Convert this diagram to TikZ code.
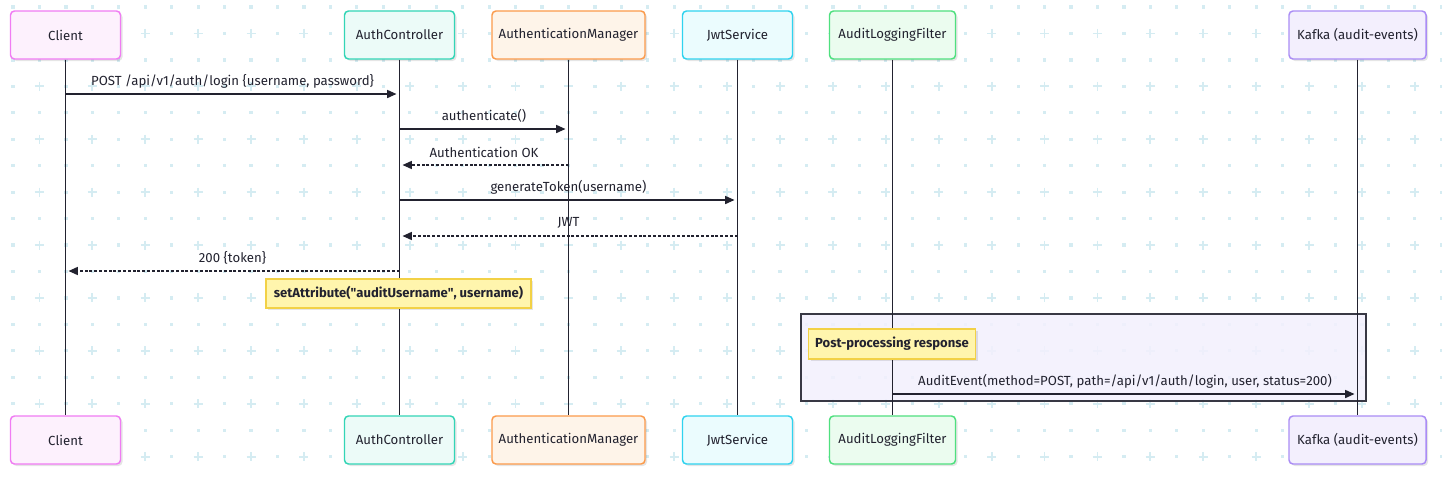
\documentclass[tikz,border=0pt]{standalone}
\usepackage{fontspec}
\setmainfont{Fira Sans}
\usetikzlibrary{arrows.meta,shadows}
\definecolor{ink}{HTML}{22222F}
\definecolor{gridc}{HTML}{D5ECF2}
\definecolor{clientB}{HTML}{F07CF3}
\definecolor{clientF}{HTML}{FDF1FD}
\definecolor{ctrlB}{HTML}{33D5B6}
\definecolor{ctrlF}{HTML}{ECFBF8}
\definecolor{mgrB}{HTML}{FB9A4B}
\definecolor{mgrF}{HTML}{FEF4E9}
\definecolor{jwtB}{HTML}{2FD3EF}
\definecolor{jwtF}{HTML}{EBFCFE}
\definecolor{auditB}{HTML}{4FE07F}
\definecolor{auditF}{HTML}{EBFCEF}
\definecolor{kafkaB}{HTML}{AA8CF5}
\definecolor{kafkaF}{HTML}{F3EFFD}
\definecolor{noteB}{HTML}{F2D146}
\definecolor{noteF}{HTML}{FFF5AD}
\definecolor{groupF}{HTML}{F3F0FD}
\begin{document}
\begin{tikzpicture}[x=0.75pt,y=-0.75pt,
		font=\fontsize{9.9}{12}\selectfont,
		actor/.style={rounded corners=3pt, line width=1.1pt, minimum width=82.5pt, minimum height=36pt, text=ink,
			drop shadow={shadow xshift=1.5pt, shadow yshift=-1.5pt, opacity=0.10, fill=black}},
		life/.style={draw=ink, line width=1.1pt},
		msg/.style={draw=ink, line width=1.1pt, shorten >=2.25pt, -{Triangle[length=7pt,width=6pt]}},
		reply/.style={msg, dash pattern=on 2.2pt off 1.4pt},
		lbl/.style={midway, text=ink, yshift=9.6pt},
		note/.style={draw=noteB, fill=noteF, line width=1.1pt, text=ink, inner xsep=2pt, font=\fontsize{9.8}{12}\selectfont\bfseries,
			drop shadow={shadow xshift=1.5pt, shadow yshift=-1.5pt, opacity=0.10, fill=black}}
	]
	\useasboundingbox (0,0) rectangle (1442,480);
	\fill[white] (0,0) rectangle (1442,480);

	\foreach \i in {0,...,54}{
		\foreach \j in {0,...,17}{
			\pgfmathtruncatemacro{\pl}{mod(\i,2)*mod(\j,2)}
			\ifnum\pl=1
				\draw[gridc, line width=1.3pt] (13+26.45*\i-4.5,7+26.45*\j) -- ++(9,0) (13+26.45*\i,7+26.45*\j-4.5) -- ++(0,9);
			\else
				\fill[gridc] (13+26.45*\i-1.6,7+26.45*\j-1.6) rectangle ++(3.2,3.2);
			\fi
		}
	}

	\fill[groupF, fill opacity=0.85] (801,314) rectangle (1366,401);
	\draw[ink!90, line width=1.1pt] (801,314) rectangle (1366,401);

	\node[actor, draw=clientB, fill=clientF] (client) at (65.5,35) {Client};
	\node[actor, draw=ctrlB, fill=ctrlF] (ctrl) at (399.5,35) {AuthController};
	\node[actor, draw=mgrB, fill=mgrF, minimum width=114.75pt] (mgr) at (568.5,35) {AuthenticationManager};
	\node[actor, draw=jwtB, fill=jwtF] (jwt) at (737.5,35) {JwtService};
	\node[actor, draw=auditB, fill=auditF, minimum width=94.5pt] (audit) at (892.5,35) {AuditLoggingFilter};
	\node[actor, draw=kafkaB, fill=kafkaF, minimum width=102.75pt] (kafka) at (1357.5,35) {Kafka (audit-events)};

	\node[actor, draw=clientB, fill=clientF] (clientb) at (65.5,440) {Client};
	\node[actor, draw=ctrlB, fill=ctrlF] (ctrlb) at (399.5,440) {AuthController};
	\node[actor, draw=mgrB, fill=mgrF, minimum width=114.75pt] (mgrb) at (568.5,440) {AuthenticationManager};
	\node[actor, draw=jwtB, fill=jwtF] (jwtb) at (737.5,440) {JwtService};
	\node[actor, draw=auditB, fill=auditF, minimum width=94.5pt] (auditb) at (892.5,440) {AuditLoggingFilter};
	\node[actor, draw=kafkaB, fill=kafkaF, minimum width=102.75pt] (kafkab) at (1357.5,440) {Kafka (audit-events)};

	\draw[life] (client) -- (clientb);
	\draw[life] (ctrl) -- (ctrlb);
	\draw[life] (mgr) -- (mgrb);
	\draw[life] (jwt) -- (jwtb);
	\draw[life] (audit) -- (auditb);
	\draw[life] (kafka) -- (kafkab);

	\coordinate (cl1) at (65.5,94);
	\coordinate (ct1) at (399.5,94);
	\coordinate (ct2) at (399.5,129);
	\coordinate (mg2) at (568.5,129);
	\coordinate (mg3) at (568.5,165);
	\coordinate (ct3) at (399.5,165);
	\coordinate (ct4) at (399.5,200);
	\coordinate (jw4) at (737.5,200);
	\coordinate (jw5) at (737.5,236);
	\coordinate (ct5) at (399.5,236);
	\coordinate (ct6) at (399.5,271);
	\coordinate (cl6) at (65.5,271);
	\coordinate (au7) at (892.5,394);
	\coordinate (ka7) at (1357.5,394);

	\draw[msg] (cl1) -- node[lbl] {POST /api/v1/auth/login \{username, password\}} (ct1);
	\draw[msg] (ct2) -- node[lbl] {authenticate()} (mg2);
	\draw[reply] (mg3) -- node[lbl] {Authentication OK} (ct3);
	\draw[msg] (ct4) -- node[lbl] {generateToken(username)} (jw4);
	\draw[reply] (jw5) -- node[lbl] {JWT} (ct5);
	\draw[reply] (ct6) -- node[lbl] {200 \{token\}} (cl6);

	\node[note, minimum width=198.75pt, minimum height=21.75pt] (setattr) at (398.5,293.5) {setAttribute(\textquotedbl auditUsername\textquotedbl, username)};
	\node[note, minimum width=125.25pt, minimum height=22.5pt] (postproc) at (892,344) {Post-processing response};

	\draw[msg] (au7) -- node[lbl] {AuditEvent(method=POST, path=/api/v1/auth/login, user, status=200)} (ka7);
\end{tikzpicture}
\end{document}
